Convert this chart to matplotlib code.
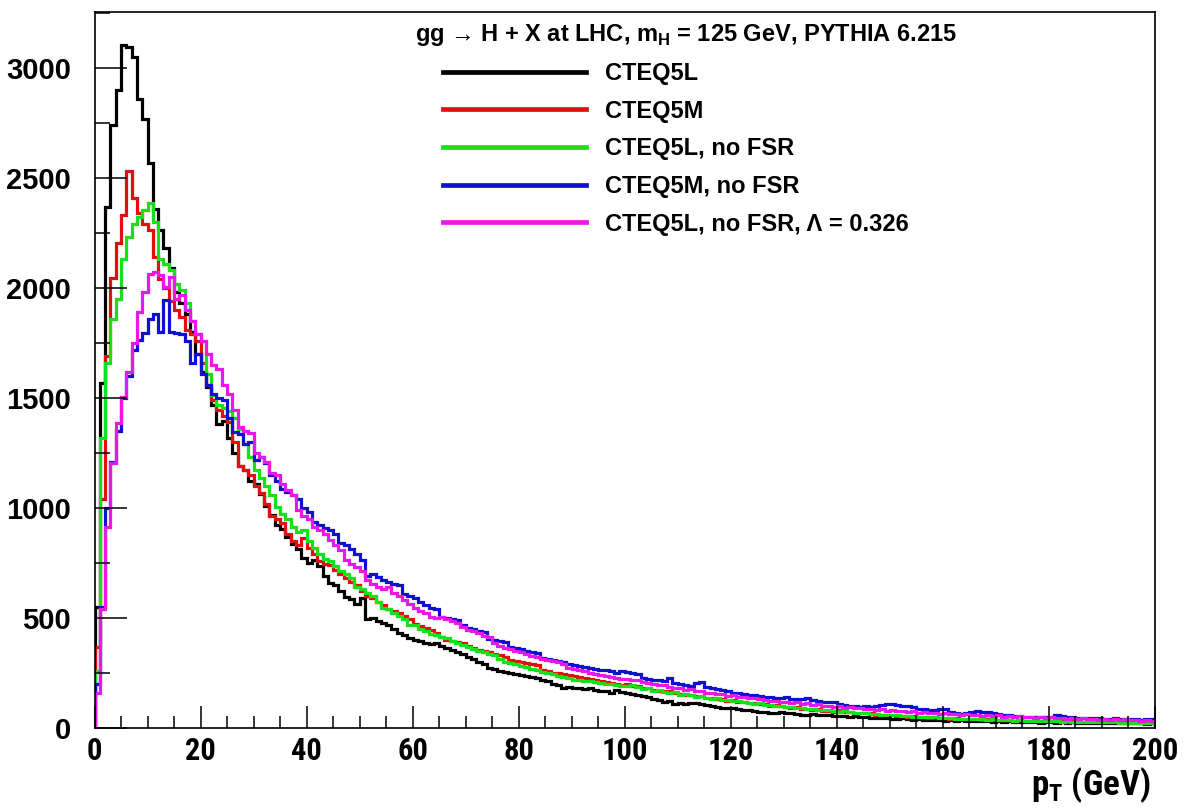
import numpy as np
import matplotlib
matplotlib.use("Agg")
import matplotlib.pyplot as plt
from matplotlib.ticker import MultipleLocator
from matplotlib.lines import Line2D

# bin edges: 200 bins of 1 GeV
pt_edges = np.arange(0, 201, 1)

cteq5l = [
    550, 1570, 2370, 2740, 2900, 3105, 3095, 3050, 2860, 2770,
    2570, 2360, 2265, 2180, 2090, 1980, 1930, 1880, 1800, 1700,
    1620, 1550, 1470, 1380, 1395, 1320, 1250, 1190, 1175, 1125,
    1110, 1065, 1010, 970, 925, 905, 870, 835, 815, 775,
    750, 765, 735, 690, 660, 650, 625, 595, 585, 565,
    590, 495, 500, 488, 478, 470, 448, 432, 422, 410,
    400, 396, 388, 380, 386, 372, 362, 356, 345, 338,
    322, 312, 302, 292, 274, 270, 258, 255, 250, 246,
    240, 236, 233, 226, 218, 212, 202, 194, 184, 186,
    182, 180, 177, 184, 175, 168, 166, 158, 172, 164,
    160, 156, 150, 146, 140, 134, 126, 118, 124, 110,
    114, 108, 112, 115, 110, 106, 100, 94, 90, 90,
    92, 86, 84, 82, 78, 74, 73, 70, 68, 72,
    67, 69, 63, 60, 59, 62, 60, 57, 59, 55,
    54, 56, 51, 53, 49, 51, 47, 45, 44, 46,
    42, 40, 44, 41, 38, 39, 36, 38, 35, 37,
    34, 36, 33, 35, 32, 31, 33, 30, 31, 29,
    30, 28, 31, 27, 29, 28, 26, 27, 25, 28,
    26, 25, 27, 24, 26, 23, 25, 24, 23, 22,
    24, 22, 23, 21, 23, 22, 21, 22, 20, 21,
]

cteq5m = [
    370, 1040, 1690, 2045, 2205, 2330, 2530, 2410, 2340, 2290,
    2265, 2140, 2040, 2000, 1940, 1900, 1870, 1810, 1790, 1760,
    1660, 1560, 1490, 1445, 1420, 1390, 1300, 1190, 1175, 1150,
    1100, 1070, 1020, 965, 950, 930, 880, 850, 830, 865,
    820, 790, 760, 745, 740, 720, 700, 680, 665, 650,
    625, 600, 590, 575, 560, 540, 530, 525, 510, 495,
    475, 465, 455, 445, 430, 415, 400, 395, 392, 385,
    375, 365, 356, 350, 345, 335, 330, 322, 310, 305,
    300, 296, 290, 285, 262, 258, 250, 248, 245, 240,
    236, 232, 226, 224, 218, 214, 208, 205, 200, 197,
    198, 190, 193, 181, 184, 174, 170, 166, 168, 158,
    155, 151, 150, 144, 146, 137, 135, 130, 132, 124,
    126, 119, 120, 113, 112, 108, 110, 101, 103, 98,
    97, 93, 95, 87, 88, 84, 85, 79, 78, 75,
    80, 72, 73, 70, 68, 66, 67, 61, 60, 58,
    59, 55, 54, 52, 54, 49, 50, 47, 48, 45,
    46, 43, 44, 41, 42, 40, 41, 38, 39, 36,
    38, 35, 36, 34, 35, 33, 33, 31, 32, 30,
    32, 30, 31, 29, 30, 28, 29, 27, 28, 26,
    28, 26, 27, 25, 26, 25, 26, 24, 25, 24,
]

cteq5l_nofsr = [
    260, 1320, 1660, 1860, 1950, 2130, 2230, 2290, 2325, 2355,
    2385, 2300, 2130, 2110, 2080, 2020, 1990, 1930, 1850, 1790,
    1760, 1610, 1515, 1470, 1455, 1440, 1410, 1360, 1290, 1230,
    1175, 1135, 1100, 1060, 1005, 975, 950, 915, 890, 900,
    850, 820, 790, 770, 760, 735, 715, 700, 680, 640,
    630, 615, 600, 575, 545, 540, 525, 510, 495, 470,
    468, 452, 442, 428, 422, 412, 408, 396, 388, 378,
    366, 358, 352, 344, 338, 330, 312, 302, 296, 290,
    284, 276, 268, 262, 256, 250, 244, 236, 232, 226,
    220, 218, 214, 212, 208, 204, 202, 198, 194, 192,
    190, 194, 186, 178, 182, 170, 172, 165, 160, 162,
    152, 155, 148, 142, 145, 138, 134, 136, 128, 126,
    124, 121, 118, 115, 110, 112, 106, 104, 100, 102,
    96, 94, 92, 90, 86, 87, 83, 80, 81, 77,
    75, 76, 71, 70, 68, 66, 64, 65, 61, 60,
    58, 57, 55, 56, 52, 51, 50, 48, 49, 46,
    45, 46, 43, 42, 43, 40, 41, 39, 38, 39,
    37, 36, 37, 34, 35, 33, 34, 32, 31, 32,
    30, 31, 29, 30, 28, 29, 27, 28, 26, 27,
    27, 26, 26, 25, 25, 24, 25, 23, 24, 23,
]

cteq5m_nofsr = [
    200, 550, 1000, 1210, 1350, 1500, 1600, 1720, 1765, 1795,
    1860, 1880, 1800, 1945, 1800, 1795, 1790, 1760, 1660, 1700,
    1610, 1560, 1520, 1500, 1490, 1410, 1345, 1335, 1290, 1300,
    1220, 1230, 1205, 1150, 1125, 1085, 1075, 1060, 1040, 1000,
    980, 935, 925, 910, 900, 880, 840, 830, 815, 790,
    765, 690, 700, 685, 675, 665, 655, 650, 610, 600,
    590, 575, 560, 545, 540, 505, 500, 495, 490, 470,
    455, 450, 440, 436, 405, 400, 395, 390, 370, 365,
    360, 352, 345, 340, 320, 315, 310, 305, 298, 290,
    285, 280, 278, 272, 268, 265, 262, 258, 252, 260,
    256, 250, 245, 228, 222, 220, 218, 215, 227, 205,
    198, 195, 192, 205, 209, 185, 180, 176, 172, 168,
    160, 158, 155, 152, 148, 145, 142, 140, 138, 136,
    140, 134, 132, 130, 135, 128, 124, 120, 118, 116,
    110, 104, 100, 98, 96, 100, 97, 102, 106, 110,
    108, 103, 100, 98, 95, 88, 86, 82, 80, 88,
    86, 72, 68, 64, 66, 75, 78, 74, 72, 66,
    62, 60, 58, 56, 55, 52, 50, 49, 51, 48,
    50, 58, 56, 50, 48, 46, 45, 47, 44, 46,
    43, 42, 44, 40, 42, 39, 41, 38, 40, 39,
]

cteq5l_nofsr_lambda = [
    160, 540, 915, 1205, 1385, 1505, 1620, 1750, 1890, 1980,
    2065, 2075, 2060, 2005, 2050, 1950, 1970, 1900, 1850, 1790,
    1760, 1700, 1650, 1630, 1560, 1520, 1445, 1370, 1350, 1340,
    1250, 1230, 1210, 1160, 1150, 1110, 1080, 1060, 990, 965,
    950, 915, 900, 880, 855, 830, 810, 765, 745, 730,
    715, 675, 655, 640, 630, 640, 615, 600, 580, 565,
    545, 530, 525, 505, 500, 505, 495, 485, 478, 460,
    445, 440, 430, 418, 412, 388, 372, 365, 358, 352,
    345, 335, 328, 322, 315, 310, 305, 298, 292, 275,
    270, 262, 258, 248, 245, 240, 238, 232, 228, 225,
    224, 216, 218, 208, 206, 202, 194, 196, 186, 184,
    182, 174, 176, 166, 168, 160, 160, 153, 154, 146,
    148, 140, 142, 135, 136, 130, 129, 124, 125, 119,
    120, 114, 116, 110, 112, 105, 107, 101, 102, 97,
    99, 93, 95, 89, 92, 86, 88, 82, 85, 79,
    82, 76, 79, 73, 76, 70, 73, 68, 70, 65,
    68, 62, 65, 60, 63, 58, 61, 56, 59, 54,
    57, 52, 55, 50, 53, 48, 51, 47, 49, 45,
    48, 44, 47, 42, 45, 41, 44, 39, 42, 38,
    41, 37, 40, 36, 39, 35, 37, 34, 36, 33,
]

series = [cteq5l, cteq5m, cteq5l_nofsr, cteq5m_nofsr, cteq5l_nofsr_lambda]
labels = ["CTEQ5L", "CTEQ5M", "CTEQ5L, no FSR", "CTEQ5M, no FSR",
          "CTEQ5L, no FSR, \u039b = 0.326"]
colors = ["#000000", "#e01010", "#18e018", "#1010d0", "#e818e8"]

narrow = ["Roboto Condensed", "Liberation Sans"]

plt.rcParams["font.family"] = ["Liberation Sans", "DejaVu Sans"]
plt.rcParams["font.weight"] = "bold"
plt.rcParams["mathtext.fontset"] = "custom"
plt.rcParams["mathtext.rm"] = "Roboto Condensed:bold"
plt.rcParams["mathtext.bf"] = "Roboto Condensed:bold"

fig = plt.figure(figsize=(11.86, 8.09), dpi=100)
ax = fig.add_axes([94.5 / 1186, 1 - 728 / 809, (1155 - 94.5) / 1186, (728 - 12) / 809])

for vals, c in zip(series, colors):
    ax.stairs(vals, pt_edges, color=c, lw=2.3, baseline=0)

ax.set_xlim(0, 200)
ax.set_ylim(0, 3255)
ax.xaxis.set_major_locator(MultipleLocator(20))
ax.xaxis.set_minor_locator(MultipleLocator(5))
ax.yaxis.set_major_locator(MultipleLocator(500))
ax.yaxis.set_minor_locator(MultipleLocator(250))
ax.tick_params(axis="x", which="major", direction="in", length=16, width=1.1,
               pad=6, labelsize=22, top=False)
ax.tick_params(axis="x", which="minor", direction="in", length=8.5, width=1.1, top=False)
ax.tick_params(axis="y", which="major", direction="in", length=23, width=1.1,
               pad=17, labelsize=21, right=False)
ax.tick_params(axis="y", which="minor", direction="in", length=11, width=1.1, right=False)
for sp in ax.spines.values():
    sp.set_linewidth(1.2)

for lab in ax.get_xticklabels():
    lab.set_fontfamily(narrow)
    lab.set_fontweight("bold")
for lab in ax.get_yticklabels():
    lab.set_fontweight("bold")

fig.text(1150 / 1186, 1 - 805 / 809, r"p$_{\mathbf{T}}$ (GeV)", ha="right", va="bottom",
         fontsize=25, fontweight="bold", family=narrow)

fig.text(415 / 1186, 1 - 35 / 809,
         "gg \u2192 H + X at LHC, m$_{\\mathregular{H}}$ = 125 GeV, PYTHIA 6.215",
         ha="left", va="center", fontsize=17, fontweight="bold")

handles = [Line2D([], [], color=c, lw=3.4) for c in colors]
leg = ax.legend(handles, labels, loc="upper left",
                bbox_to_anchor=(443 / 1186, 1 - 62 / 809),
                bbox_transform=fig.transFigure, frameon=False,
                prop={"size": 17, "weight": "bold"},
                handlelength=6.06, handletextpad=0.8, labelspacing=0.62,
                borderpad=0, borderaxespad=0)

fig.savefig("out.png", dpi=100)
